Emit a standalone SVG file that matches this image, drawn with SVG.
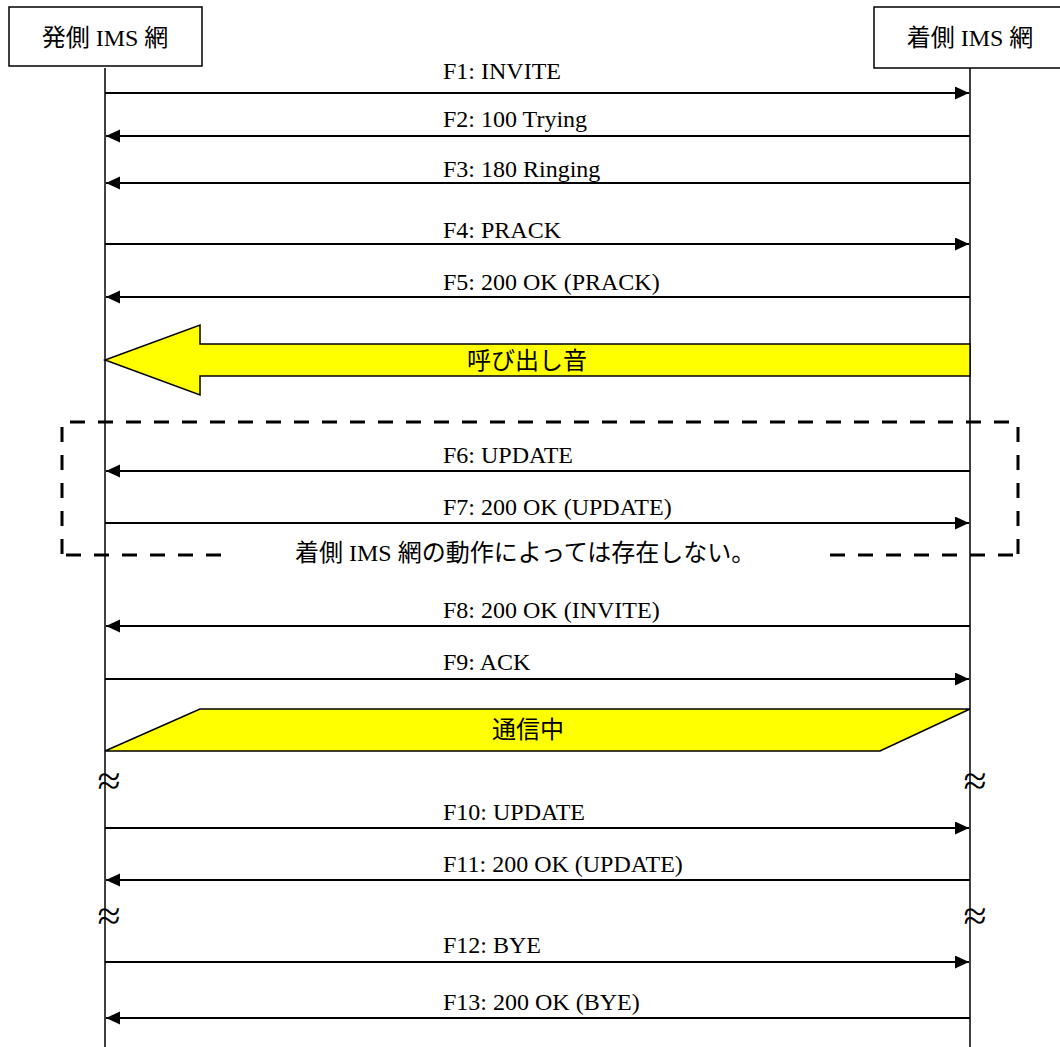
<svg xmlns="http://www.w3.org/2000/svg" width="1060" height="1047" viewBox="0 0 1060 1047">
<style>
text{font-family:"Liberation Serif","Noto Sans CJK JP",serif;font-size:24px;fill:#000}
.box{fill:#fff;stroke:#000;stroke-width:1.5}
.life{stroke:#000;stroke-width:1.5;fill:none}
.msg{stroke:#000;stroke-width:2;fill:none;marker-end:url(#ah)}
.band{fill:#ffff00;stroke:#000;stroke-width:1.5;stroke-linejoin:miter}
.dash{fill:none;stroke:#000;stroke-width:3;stroke-dasharray:15 13}
.brk{font-size:42px}
</style>
<defs>
<marker id="ah" markerUnits="userSpaceOnUse" markerWidth="14" markerHeight="14" refX="14" refY="6.5" orient="auto">
<path d="M0,0 L14,6.5 L0,13 Z" fill="#000"/>
</marker>
</defs>
<g id="node-orig">
<rect class="box" x="9" y="7" width="193" height="59"/>
<text x="105" y="46" text-anchor="middle">発側 IMS 網</text>
</g>
<g id="node-term">
<rect class="box" x="874" y="7" width="192" height="61"/>
<text x="970" y="46" text-anchor="middle">着側 IMS 網</text>
</g>
<g id="lifelines">
<line class="life" x1="105" y1="68" x2="105" y2="1047"/>
<line class="life" x1="970" y1="68" x2="970" y2="1047"/>
</g>
<g id="ringback">
<polygon class="band" points="970,344 200,344 200,325 105,360 200,395 200,376 970,376"/>
<text x="467" y="369">呼び出し音</text>
</g>
<g id="optional">
<path class="dash" d="M70,422 H1018"/>
<path class="dash" d="M1018,427 V555"/>
<path class="dash" d="M62,427 V555"/>
<path class="dash" d="M66,555 H222"/>
<path class="dash" d="M830,555 H1014"/>
<text x="295" y="561">着側 IMS 網の動作によっては存在しない。</text>
</g>
<g id="talking">
<polygon class="band" points="200,709 970,709 880,751 105,751"/>
<text x="492" y="738">通信中</text>
</g>
<g id="breaks">
<text class="brk" x="109" y="795" text-anchor="middle">≈</text>
<text class="brk" x="975" y="795" text-anchor="middle">≈</text>
<text class="brk" x="109" y="930" text-anchor="middle">≈</text>
<text class="brk" x="975" y="930" text-anchor="middle">≈</text>
</g>
<g id="connectors">
<line class="msg" x1="105" y1="93" x2="969" y2="93"/>
<line class="msg" x1="970" y1="136" x2="106" y2="136"/>
<line class="msg" x1="970" y1="183" x2="106" y2="183"/>
<line class="msg" x1="105" y1="244" x2="969" y2="244"/>
<line class="msg" x1="970" y1="297" x2="106" y2="297"/>
<line class="msg" x1="970" y1="471" x2="106" y2="471"/>
<line class="msg" x1="105" y1="523" x2="969" y2="523"/>
<line class="msg" x1="970" y1="626" x2="106" y2="626"/>
<line class="msg" x1="105" y1="679" x2="969" y2="679"/>
<line class="msg" x1="105" y1="828" x2="969" y2="828"/>
<line class="msg" x1="970" y1="880" x2="106" y2="880"/>
<line class="msg" x1="105" y1="962" x2="969" y2="962"/>
<line class="msg" x1="970" y1="1018" x2="106" y2="1018"/>
</g>
<g id="labels">
<text x="443" y="79">F1: INVITE</text>
<text x="443" y="127">F2: 100 Trying</text>
<text x="443" y="177">F3: 180 Ringing</text>
<text x="443" y="238">F4: PRACK</text>
<text x="443" y="290">F5: 200 OK (PRACK)</text>
<text x="443" y="463">F6: UPDATE</text>
<text x="443" y="515">F7: 200 OK (UPDATE)</text>
<text x="443" y="618">F8: 200 OK (INVITE)</text>
<text x="443" y="670">F9: ACK</text>
<text x="443" y="820">F10: UPDATE</text>
<text x="443" y="872">F11: 200 OK (UPDATE)</text>
<text x="443" y="953">F12: BYE</text>
<text x="443" y="1010">F13: 200 OK (BYE)</text>
</g>
</svg>
